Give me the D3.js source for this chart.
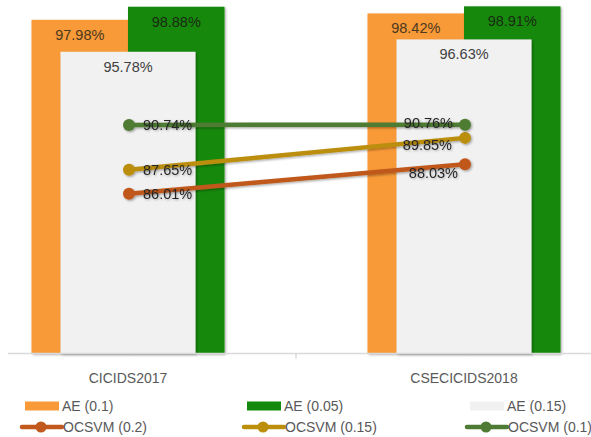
<!DOCTYPE html>
<html>
<head>
<meta charset="utf-8">
<script src="https://cdn.jsdelivr.net/npm/d3@7"></script>
<style>
  html, body { margin: 0; padding: 0; background: #ffffff; }
  svg { display: block; }
  text { font-family: "Liberation Sans", Arial, sans-serif; }
</style>
</head>
<body>
<div id="chart"></div>
<script>
// ---- Data ----
const categories = ["CICIDS2017", "CSECICIDS2018"];
const aeSeries = ["AE (0.1)", "AE (0.05)"];
const ae01 = [97.98, 98.42];
const ae005 = [98.88, 98.91];
const ae015 = [95.78, 96.63];
const ocsvmSeries = ["OCSVM (0.2)", "OCSVM (0.15)", "OCSVM (0.1)"];
const ocsvm02 = [86.01, 88.03];
const ocsvm015 = [87.65, 89.85];
const ocsvm01 = [90.74, 90.76];
const legendLabels = ["AE (0.1)", "AE (0.05)", "AE (0.15)", "OCSVM (0.2)", "OCSVM (0.15)", "OCSVM (0.1)"];

// ---- Styles ----
const W = 591, H = 437;
const colors = {
  "AE (0.1)": "#f99a38",
  "AE (0.05)": "#12890d",
  "AE (0.15)": "#f1f1f1",
  "OCSVM (0.2)": "#c0591b",
  "OCSVM (0.15)": "#bb8e0c",
  "OCSVM (0.1)": "#4e7b33"
};

const svg = d3.select("#chart").append("svg")
  .attr("width", W).attr("height", H);

const defs = svg.append("defs");
const f = defs.append("filter").attr("id", "shadow")
  .attr("x", "-20%").attr("y", "-20%").attr("width", "140%").attr("height", "140%");
f.append("feDropShadow").attr("dx", 1.2).attr("dy", 1.2).attr("stdDeviation", 1)
  .attr("flood-color", "#000").attr("flood-opacity", 0.35);
const ft = defs.append("filter").attr("id", "tshadow")
  .attr("x", "-20%").attr("y", "-30%").attr("width", "140%").attr("height", "160%");
ft.append("feDropShadow").attr("dx", 1).attr("dy", 1).attr("stdDeviation", 0.8)
  .attr("flood-color", "#000").attr("flood-opacity", 0.3);

// ---- Scales ----
const baseY = 353.5;
const y = d3.scaleLinear().domain([75, 100]).range([baseY, baseY - 25 * 14.52]);
const x = d3.scaleBand().domain(categories).range([-40, 632]).paddingInner(0).paddingOuter(0);
const xSub = d3.scaleBand().domain(aeSeries).range([0, x.bandwidth()]).paddingInner(0).paddingOuter(0.741);
const xSec = d3.scaleBand().domain(categories).range([-40, 632]).paddingInner(0.598).paddingOuter(0.299);

// ---- Primary bars ----
const primary = [
  { name: "AE (0.1)", values: ae01 },
  { name: "AE (0.05)", values: ae005 }
];
const gBars = svg.append("g");
primary.forEach(s => {
  gBars.selectAll(null).data(categories).enter().append("rect")
    .attr("x", (c) => x(c) + xSub(s.name))
    .attr("width", xSub.bandwidth())
    .attr("y", (c, i) => y(s.values[i]))
    .attr("height", (c, i) => baseY - y(s.values[i]))
    .attr("fill", colors[s.name])
    .attr("filter", "url(#shadow)");
});
// secondary bar (AE 0.15)
gBars.selectAll(null).data(categories).enter().append("rect")
  .attr("x", c => xSec(c))
  .attr("width", xSec.bandwidth())
  .attr("y", (c, i) => y(ae015[i]))
  .attr("height", (c, i) => baseY - y(ae015[i]))
  .attr("fill", colors["AE (0.15)"])
  .attr("filter", "url(#shadow)");

// bar labels
const fmt = v => v.toFixed(2) + "%";
primary.forEach(s => {
  svg.selectAll(null).data(categories).enter().append("text")
    .attr("x", c => x(c) + xSub(s.name) + xSub.bandwidth() / 2)
    .attr("y", (c, i) => y(s.values[i]) + 20)
    .attr("text-anchor", "middle")
    .attr("font-size", 14.5)
    .attr("fill", s.name === "AE (0.05)" ? "#1b2a12" : "#4a3820")
    .text((c, i) => fmt(s.values[i]));
});
svg.selectAll(null).data(categories).enter().append("text")
  .attr("x", c => xSec(c) + xSec.bandwidth() / 2)
  .attr("y", (c, i) => y(ae015[i]) + 20)
  .attr("text-anchor", "middle")
  .attr("font-size", 14.5)
  .attr("fill", "#404040")
  .text((c, i) => fmt(ae015[i]));

// ---- Axis ----
const axisG = svg.append("g").attr("transform", `translate(0,${baseY})`);
axisG.append("line").attr("x1", 8).attr("x2", W).attr("y1", 0).attr("y2", 0)
  .attr("stroke", "#d9d9d9").attr("stroke-width", 1.5);
const axis = d3.axisBottom(x).tickSize(0).tickPadding(20);
const ag = svg.append("g").attr("transform", `translate(0,${baseY})`).call(axis);
ag.select(".domain").remove();
ag.selectAll("text").attr("font-size", 14).attr("fill", "#595959")
  .attr("font-family", "Liberation Sans, Arial, sans-serif");
// category boundary tick
axisG.append("line")
  .attr("x1", x(categories[1])).attr("x2", x(categories[1]))
  .attr("y1", 0).attr("y2", 5).attr("stroke", "#d9d9d9").attr("stroke-width", 1.5);

// ---- Lines ----
const lineSeries = [
  { name: "OCSVM (0.2)", values: ocsvm02 },
  { name: "OCSVM (0.15)", values: ocsvm015 },
  { name: "OCSVM (0.1)", values: ocsvm01 }
];
const cx = c => x(c) + x.bandwidth() / 2 + 1;
const line = d3.line().x(d => cx(d.c)).y(d => y(d.v));
const gLines = svg.append("g");
lineSeries.forEach(s => {
  const pts = categories.map((c, i) => ({ c, v: s.values[i] }));
  const g = gLines.append("g").attr("filter", "url(#shadow)");
  g.append("path").datum(pts).attr("d", line)
    .attr("fill", "none").attr("stroke", colors[s.name]).attr("stroke-width", 4.5)
    .attr("stroke-linecap", "round");
  g.selectAll("circle").data(pts).enter().append("circle")
    .attr("cx", d => cx(d.c)).attr("cy", d => y(d.v)).attr("r", 6)
    .attr("fill", colors[s.name]);
});
// line labels: left point -> label to the right; right point -> label to the left
const labelOffsets = {
  "OCSVM (0.2)": [[14, 5], [-7, 14]],
  "OCSVM (0.15)": [[14, 5], [-13, 12]],
  "OCSVM (0.1)": [[14, 5], [-12, 3]]
};
lineSeries.forEach(s => {
  categories.forEach((c, i) => {
    const off = labelOffsets[s.name][i];
    svg.append("text")
      .attr("x", cx(c) + off[0])
      .attr("y", y(s.values[i]) + off[1])
      .attr("text-anchor", i === 0 ? "start" : "end")
      .attr("font-size", 14.5)
      .attr("fill", "#262626")
      .attr("filter", "url(#tshadow)")
      .text(fmt(s.values[i]));
  });
});

// ---- Legend ----
const legX = [25, 247, 470];
const row1 = 406, row2 = 427;
const leg = svg.append("g");
["AE (0.1)", "AE (0.05)", "AE (0.15)"].forEach((name, i) => {
  leg.append("rect").attr("x", legX[i]).attr("y", row1 - 4.5)
    .attr("width", 34).attr("height", 9).attr("fill", colors[name]);
  leg.append("text").attr("x", legX[i] + 37).attr("y", row1 + 5)
    .attr("font-size", 14).attr("fill", "#595959").text(legendLabels[i]);
});
ocsvmSeries.forEach((name, i) => {
  const x0 = legX[i] - 3;
  leg.append("line").attr("x1", x0).attr("x2", x0 + 40).attr("y1", row2).attr("y2", row2)
    .attr("stroke", colors[name]).attr("stroke-width", 4.5).attr("stroke-linecap", "round");
  leg.append("circle").attr("cx", x0 + 19).attr("cy", row2).attr("r", 5.5).attr("fill", colors[name]);
  leg.append("text").attr("x", legX[i] + 38).attr("y", row2 + 5)
    .attr("font-size", 14).attr("fill", "#595959").text(legendLabels[i + 3]);
});
</script>
</body>
</html>
